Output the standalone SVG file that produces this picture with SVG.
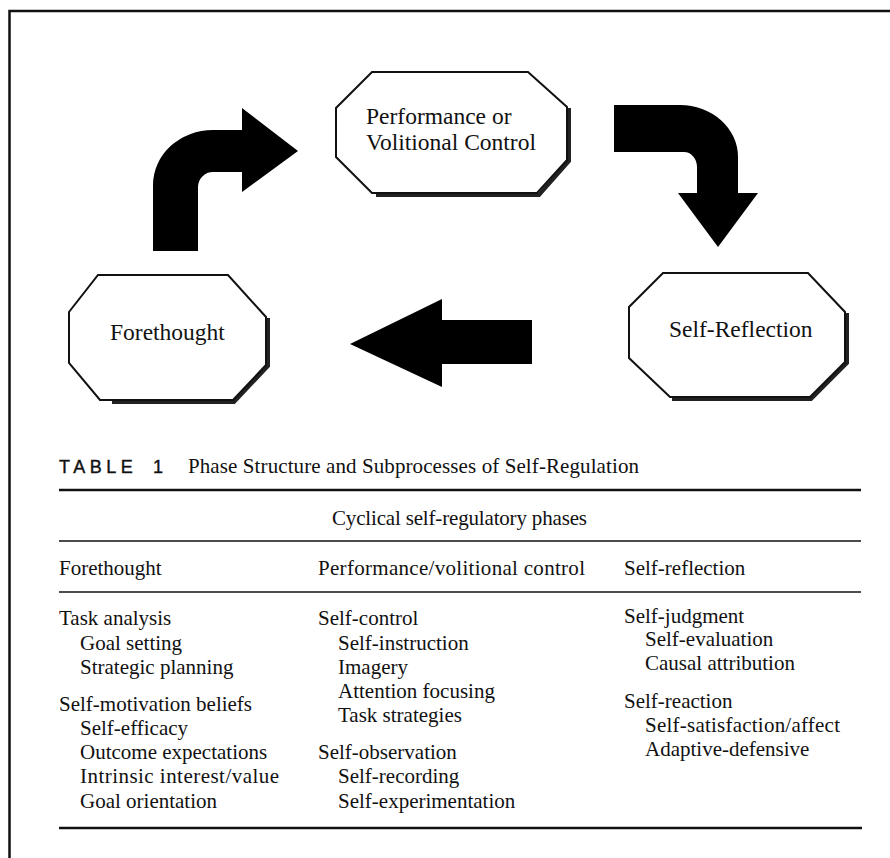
<svg xmlns="http://www.w3.org/2000/svg" width="890" height="858" viewBox="0 0 890 858">
  <style>
    .oct { fill: #fff; stroke: #111; stroke-width: 2; stroke-linejoin: miter; }
    .shadow { fill: none; stroke: #222; stroke-width: 4; stroke-linejoin: miter; }
    .node-label { font-family: "Liberation Serif", "Times New Roman", serif; font-size: 23.5px; fill: #111; }
    .arrow { fill: #000; stroke: none; }
    .cell { font-family: "Liberation Serif", "Times New Roman", serif; font-size: 21px; fill: #111; }
    .rule { stroke: #111; fill: none; }
    .tag { font-family: "Liberation Sans", Arial, sans-serif; font-size: 18px; fill: #111; stroke: #111; stroke-width: 0.4; letter-spacing: 4.5px; }
  </style>

  <rect width="890" height="858" fill="#fff"/>
  <!-- frame: left and top edges only -->
  <path class="rule" d="M9.5,858 V11 H890" stroke-width="2.5"/>

  <g id="connectors">
    <!-- forethought to performance -->
    <path class="arrow" d="M153,251 V185 A60,55 0 0 1 213,130 H242 V108 L298,151 L242,192 V172 H213 A15,15 0 0 0 198,187 V251 Z"/>
    <!-- performance to self-reflection -->
    <path class="arrow" d="M614,105 H680 A58,52 0 0 1 738,157 V193 H758 L718,247 L678,193 H697 V167 A13,15 0 0 0 684,152 H614 Z"/>
    <!-- self-reflection back to forethought -->
    <path class="arrow" d="M350,344 L442,299 V320 H532 V364 H442 V387 Z"/>
  </g>

  <g id="node-performance">
    <polyline class="shadow" points="569,108 569,161 539,195 376,195"/>
    <polygon class="oct" points="372,72 528,72 567,107 567,160 537,193 372,193 336,157 336,108"/>
    <text class="node-label" x="366" y="124">Performance or</text>
    <text class="node-label" x="366" y="150">Volitional Control</text>
  </g>

  <g id="node-forethought">
    <polyline class="shadow" points="268,318 268,366 234,402 112,402"/>
    <polygon class="oct" points="98,275 228,275 266,317 266,365 233,400 100,400 69,363 69,312"/>
    <text class="node-label" x="110" y="340">Forethought</text>
  </g>

  <g id="node-self-reflection">
    <polyline class="shadow" points="847,313 847,363 811,399 672,399"/>
    <polygon class="oct" points="663,273 808,273 845,312 845,362 810,397 670,397 629,358 629,307"/>
    <text class="node-label" x="669" y="337">Self-Reflection</text>
  </g>

  <g id="table">
    <text class="tag" x="59" y="473">TABLE</text>
    <text class="tag" x="153" y="473">1</text>
    <text class="cell" x="188" y="473" textLength="451">Phase Structure and Subprocesses of Self-Regulation</text>

    <line class="rule" x1="59" y1="490" x2="861" y2="490" stroke-width="2.5"/>
    <text class="cell" x="332" y="525" textLength="255">Cyclical self-regulatory phases</text>
    <line class="rule" x1="59" y1="541" x2="861" y2="541" stroke-width="1.6"/>

    <text class="cell" x="59" y="575">Forethought</text>
    <text class="cell" x="318" y="575" textLength="267">Performance/volitional control</text>
    <text class="cell" x="624" y="575">Self-reflection</text>
    <line class="rule" x1="59" y1="592" x2="861" y2="592" stroke-width="1.6"/>

    <!-- forethought column -->
    <text class="cell" x="59" y="625">Task analysis</text>
    <text class="cell" x="80" y="650">Goal setting</text>
    <text class="cell" x="80" y="674">Strategic planning</text>
    <text class="cell" x="59" y="711">Self-motivation beliefs</text>
    <text class="cell" x="80" y="735">Self-efficacy</text>
    <text class="cell" x="80" y="759">Outcome expectations</text>
    <text class="cell" x="80" y="783" textLength="199">Intrinsic interest/value</text>
    <text class="cell" x="80" y="808">Goal orientation</text>

    <!-- performance column -->
    <text class="cell" x="318" y="625">Self-control</text>
    <text class="cell" x="338" y="650">Self-instruction</text>
    <text class="cell" x="338" y="674">Imagery</text>
    <text class="cell" x="338" y="698">Attention focusing</text>
    <text class="cell" x="338" y="722">Task strategies</text>
    <text class="cell" x="318" y="759">Self-observation</text>
    <text class="cell" x="338" y="783">Self-recording</text>
    <text class="cell" x="338" y="808">Self-experimentation</text>

    <!-- self-reflection column -->
    <text class="cell" x="624" y="623">Self-judgment</text>
    <text class="cell" x="645" y="646">Self-evaluation</text>
    <text class="cell" x="645" y="670">Causal attribution</text>
    <text class="cell" x="624" y="708">Self-reaction</text>
    <text class="cell" x="645" y="732" textLength="195">Self-satisfaction/affect</text>
    <text class="cell" x="645" y="756">Adaptive-defensive</text>

    <line class="rule" x1="59" y1="828" x2="862" y2="828" stroke-width="2.5"/>
  </g>
</svg>
